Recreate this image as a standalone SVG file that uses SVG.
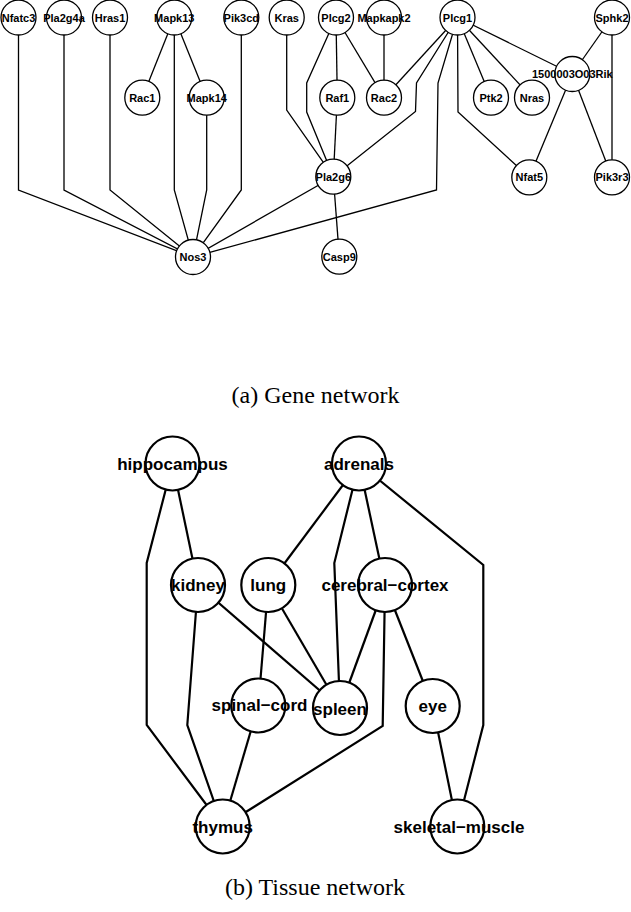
<svg xmlns="http://www.w3.org/2000/svg" width="631" height="912" viewBox="0 0 631 912">
<style>
.bg{fill:#fff}
.ge{fill:none;stroke:#000;stroke-width:1.3}
.gn circle{fill:#fff;stroke:#000;stroke-width:1.3}
.gn text{font-family:"Liberation Sans",Arial,sans-serif;font-weight:bold;font-size:11px;text-anchor:middle;fill:#000}
.te{fill:none;stroke:#000;stroke-width:2.2}
.tn circle{fill:#fff;stroke:#000;stroke-width:2.2}
.tn text{font-family:"Liberation Sans",Arial,sans-serif;font-weight:bold;font-size:17px;text-anchor:middle;fill:#000}
.cap{font-family:"Liberation Serif","Times New Roman",serif;font-size:24px;text-anchor:middle;fill:#000}
</style>
<rect class="bg" x="0" y="0" width="631" height="912"/>

<g id="gene-edges">
<path class="ge" d="M18.5,17.5 V190 L193,257"/>
<path class="ge" d="M64,17.5 V190 L193,257"/>
<path class="ge" d="M110,17.5 V190 L193,257"/>
<path class="ge" d="M174.3,17.5 V190 L193,257"/>
<path class="ge" d="M206.7,97.7 V190 L193,257"/>
<path class="ge" d="M241.3,17.5 V190 L193,257"/>
<path class="ge" d="M333.3,176.7 L193,257"/>
<path class="ge" d="M457.5,17.5 L438,83 L436.5,190 L193,257"/>
<path class="ge" d="M174.3,17.5 L142.3,97.7"/>
<path class="ge" d="M174.3,17.5 L206.7,97.7"/>
<path class="ge" d="M286.7,17.5 V110 L333.3,176.7"/>
<path class="ge" d="M336,17.5 L306.7,83 V112 L333.3,176.7"/>
<path class="ge" d="M336,17.5 L337.3,97.7"/>
<path class="ge" d="M336,17.5 L384,97.7"/>
<path class="ge" d="M384,17.5 L384,97.7"/>
<path class="ge" d="M337.3,97.7 L333.3,176.7"/>
<path class="ge" d="M333.3,176.7 L339.3,256.7"/>
<path class="ge" d="M457.5,17.5 L384,97.7"/>
<path class="ge" d="M457.5,17.5 L416.5,83 L415.5,111.5 L333.3,176.7"/>
<path class="ge" d="M457.5,17.5 L458,112 L529.3,177.3"/>
<path class="ge" d="M457.5,17.5 L491,97.7"/>
<path class="ge" d="M457.5,17.5 L532,97.7"/>
<path class="ge" d="M457.5,17.5 L572.3,74"/>
<path class="ge" d="M612,17.5 L572.3,74"/>
<path class="ge" d="M612,17.5 L612,177.3"/>
<path class="ge" d="M572.3,74 L529.3,177.3"/>
<path class="ge" d="M572.3,74 L612,177.3"/>
</g>

<g id="Nfatc3" class="gn"><circle cx="18.5" cy="17.5" r="17.5"/><text x="18.5" y="21.5">Nfatc3</text></g>
<g id="Pla2g4a" class="gn"><circle cx="64" cy="17.5" r="17.5"/><text x="64" y="21.5">Pla2g4a</text></g>
<g id="Hras1" class="gn"><circle cx="110" cy="17.5" r="17.5"/><text x="110" y="21.5">Hras1</text></g>
<g id="Mapk13" class="gn"><circle cx="174.3" cy="17.5" r="17.5"/><text x="174.3" y="21.5">Mapk13</text></g>
<g id="Pik3cd" class="gn"><circle cx="241.3" cy="17.5" r="17.5"/><text x="241.3" y="21.5">Pik3cd</text></g>
<g id="Kras" class="gn"><circle cx="286.7" cy="17.5" r="17.5"/><text x="286.7" y="21.5">Kras</text></g>
<g id="Plcg2" class="gn"><circle cx="336" cy="17.5" r="17.5"/><text x="336" y="21.5">Plcg2</text></g>
<g id="Mapkapk2" class="gn"><circle cx="384" cy="17.5" r="17.5"/><text x="384" y="21.5">Mapkapk2</text></g>
<g id="Plcg1" class="gn"><circle cx="457.5" cy="17.5" r="17.5"/><text x="457.5" y="21.5">Plcg1</text></g>
<g id="Sphk2" class="gn"><circle cx="612" cy="17.5" r="17.5"/><text x="612" y="21.5">Sphk2</text></g>
<g id="Rac1" class="gn"><circle cx="142.3" cy="97.7" r="17.5"/><text x="142.3" y="101.7">Rac1</text></g>
<g id="Mapk14" class="gn"><circle cx="206.7" cy="97.7" r="17.5"/><text x="206.7" y="101.7">Mapk14</text></g>
<g id="Raf1" class="gn"><circle cx="337.3" cy="97.7" r="17.5"/><text x="337.3" y="101.7">Raf1</text></g>
<g id="Rac2" class="gn"><circle cx="384" cy="97.7" r="17.5"/><text x="384" y="101.7">Rac2</text></g>
<g id="Ptk2" class="gn"><circle cx="491" cy="97.7" r="17.5"/><text x="491" y="101.7">Ptk2</text></g>
<g id="Nras" class="gn"><circle cx="532" cy="97.7" r="17.5"/><text x="532" y="101.7">Nras</text></g>
<g id="n1500003O03Rik" class="gn"><circle cx="572.3" cy="74" r="17.5"/><text x="572.3" y="78">1500003O03Rik</text></g>
<g id="Pla2g6" class="gn"><circle cx="333.3" cy="176.7" r="17.5"/><text x="333.3" y="180.7">Pla2g6</text></g>
<g id="Nfat5" class="gn"><circle cx="529.3" cy="177.3" r="17.5"/><text x="529.3" y="181.3">Nfat5</text></g>
<g id="Pik3r3" class="gn"><circle cx="612" cy="177.3" r="17.5"/><text x="612" y="181.3">Pik3r3</text></g>
<g id="Nos3" class="gn"><circle cx="193" cy="257" r="17.5"/><text x="193" y="261">Nos3</text></g>
<g id="Casp9" class="gn"><circle cx="339.3" cy="256.7" r="17.5"/><text x="339.3" y="260.7">Casp9</text></g>

<text id="caption-a" class="cap" x="315.5" y="403">(a) Gene network</text>

<g id="tissue-edges">
<path class="te" d="M172.5,463.5 L146.7,563 V725 L222.7,826.5"/>
<path class="te" d="M172.5,463.5 L198,585"/>
<path class="te" d="M198,585 L187.3,725 L222.7,826.5"/>
<path class="te" d="M198,585 L340,708"/>
<path class="te" d="M359,463.5 L268.3,585"/>
<path class="te" d="M359,463.5 L334.3,563 L340,708"/>
<path class="te" d="M359,463.5 L385,585"/>
<path class="te" d="M359,463.5 L483.3,565 V725 L457.3,826.5"/>
<path class="te" d="M268.3,585 L258.3,705.5"/>
<path class="te" d="M268.3,585 L340,708"/>
<path class="te" d="M385,585 L340,708"/>
<path class="te" d="M385,585 L382.7,726 L222.7,826.5"/>
<path class="te" d="M385,585 L432.7,706"/>
<path class="te" d="M258.3,705.5 L222.7,826.5"/>
<path class="te" d="M432.7,706 L457.3,826.5"/>
</g>

<g id="hippocampus" class="tn"><circle cx="172.5" cy="463.5" r="27"/><text x="172.5" y="469.5">hippocampus</text></g>
<g id="adrenals" class="tn"><circle cx="359" cy="463.5" r="27"/><text x="359" y="469.5">adrenals</text></g>
<g id="kidney" class="tn"><circle cx="198" cy="585" r="27"/><text x="198" y="591">kidney</text></g>
<g id="lung" class="tn"><circle cx="268.3" cy="585" r="27"/><text x="268.3" y="591">lung</text></g>
<g id="cerebral-cortex" class="tn"><circle cx="385" cy="585" r="27"/><text x="385" y="591">cerebral−cortex</text></g>
<g id="spinal-cord" class="tn"><circle cx="258.3" cy="705.5" r="27"/><text x="259.5" y="711">spinal−cord</text></g>
<g id="spleen" class="tn"><circle cx="340" cy="708" r="27"/><text x="340" y="715">spleen</text></g>
<g id="eye" class="tn"><circle cx="432.7" cy="706" r="27"/><text x="432.7" y="712">eye</text></g>
<g id="thymus" class="tn"><circle cx="222.7" cy="826.5" r="27"/><text x="222.7" y="832.5">thymus</text></g>
<g id="skeletal-muscle" class="tn"><circle cx="457.3" cy="826.5" r="27"/><text x="459" y="832.5">skeletal−muscle</text></g>

<text id="caption-b" class="cap" x="315" y="895">(b) Tissue network</text>
</svg>
